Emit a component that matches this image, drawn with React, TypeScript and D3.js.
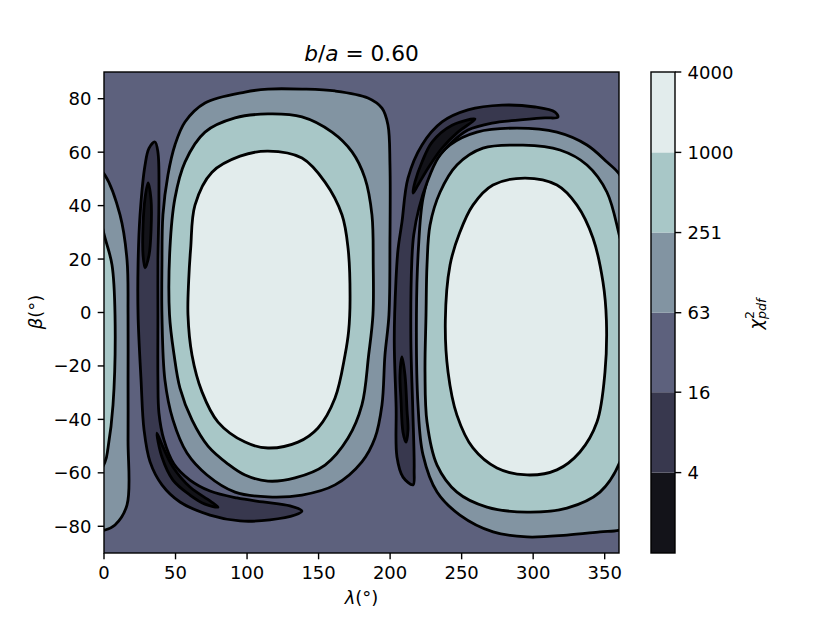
import React from "react";
import * as d3 from "d3";

type P = [number, number];

// contour levels (chi^2_pdf) and colorbar tick labels
const levels = [1, 4, 16, 63, 251, 1000, 4000];
const levelTickLabels = ["4", "16", "63", "251", "1000", "4000"];
const bandColors = ["#131319", "#38384e", "#5d617d", "#8294a2", "#a8c7c7", "#e2ecec"];

const xTicks = [0, 50, 100, 150, 200, 250, 300, 350];
const yTicks = [-80, -60, -40, -20, 0, 20, 40, 60, 80];

// contour outlines, in (lambda, beta) degrees
const A1000: P[] = [[114.6,60.4],[138.4,57.8],[154.5,48.8],[166.4,36.5],[170.6,24.1],[172.0,5.0],[171.0,-7.0],[168.5,-15.9],[161.5,-32.0],[149.6,-43.2],[135.6,-48.5],[114.6,-50.7],[98.6,-48.5],[79.7,-41.0],[68.5,-29.7],[61.5,-15.9],[58.7,-0.9],[59.2,12.0],[60.6,24.1],[63.6,40.2],[75.5,52.5],[95.1,58.5]];
const A251: P[] = [[91.6,72.8],[114.6,74.3],[138.4,73.2],[159.4,67.5],[173.4,60.1],[182.4,50.3],[187.3,36.5],[188.2,17.8],[188.0,-0.9],[185.0,-15.9],[180.3,-34.6],[170.6,-47.0],[154.5,-57.1],[133.5,-61.9],[114.6,-63.1],[98.6,-60.8],[86.7,-56.7],[72.7,-50.0],[61.5,-40.2],[53.1,-28.3],[49.0,-15.9],[45.8,-0.9],[46.1,24.1],[49.6,42.8],[56.6,56.3],[70.6,67.5]];
const A63: P[] = [[114.6,83.6],[138.4,83.6],[161.5,82.9],[184.5,80.3],[194.3,76.5],[198.5,70.2],[199.9,55.2],[199.9,27.1],[199.2,-0.9],[196.4,-15.9],[194.3,-34.6],[189.4,-47.0],[180.3,-55.9],[161.5,-64.5],[138.4,-68.3],[114.6,-69.0],[91.6,-67.2],[72.0,-60.8],[58.0,-52.6],[48.2,-40.2],[42.6,-25.3],[40.5,-0.9],[40.5,17.8],[41.2,36.5],[44.7,51.5],[49.6,62.7],[56.6,71.3],[70.6,78.4],[98.6,82.5]];
const B1000: P[] = [[294.3,50.3],[316.6,47.7],[330.6,40.2],[341.8,27.9],[348.8,11.4],[351.2,-3.0],[350.2,-22.3],[344.6,-41.0],[332.7,-52.2],[316.6,-58.9],[295.7,-60.8],[274.7,-58.2],[257.9,-50.7],[246.7,-38.4],[240.5,-22.3],[238.6,-3.0],[241.9,17.8],[248.8,30.1],[257.9,40.2],[271.9,47.7]];
const B251: P[] = [[292.9,62.6],[318.7,60.8],[337.6,55.2],[351.6,45.0],[360.7,27.9],[365.6,17.8],[367.7,-0.9],[366.3,-34.6],[362.8,-50.7],[360.7,-55.9],[346.7,-67.2],[323.6,-73.2],[295.7,-74.7],[267.7,-72.8],[246.7,-67.2],[232.8,-57.1],[225.8,-41.0],[224.4,-22.3],[225.1,-0.9],[225.8,17.8],[227.9,32.7],[234.9,45.0],[246.7,55.2],[264.9,61.5]];
const B63: P[] = [[288.7,69.0],[316.6,67.5],[337.6,62.7],[351.6,56.3],[360.7,51.4],[371.2,36.5],[376.1,19.6],[376.8,-0.9],[376.8,-25.3],[376.8,-47.7],[376.1,-72.0],[367.7,-79.5],[360.7,-81.4],[346.7,-82.1],[323.6,-83.3],[295.7,-84.0],[272.0,-82.1],[248.8,-75.8],[232.8,-67.2],[223.0,-53.3],[219.5,-34.6],[218.4,-0.9],[219.8,24.1],[223.0,42.8],[230.0,55.2],[241.9,62.7],[260.7,67.5]];
const D16L: P[] = [[35.6,63.8],[37.7,60.0],[38.4,42.8],[37.7,19.6],[37.7,-0.9],[37.7,-25.3],[38.4,-37.6],[41.9,-47.7],[48.9,-56.7],[60.1,-62.7],[74.1,-66.8],[93.0,-69.4],[111.1,-70.9],[130.0,-72.4],[138.4,-74.3],[133.5,-75.8],[116.0,-77.6],[95.1,-78.0],[74.1,-75.8],[53.1,-70.9],[40.5,-64.5],[32.2,-55.9],[28.0,-44.0],[25.9,-25.3],[23.8,-0.9],[23.8,17.8],[25.2,36.5],[28.7,55.2],[31.5,61.5]];
const D16R: P[] = [[216.0,-64.5],[209.0,-61.6],[204.8,-54.1],[204.2,-35.4],[202.9,-10.3],[204.1,12.1],[205.5,23.4],[208.3,33.9],[212.5,50.3],[222.3,62.7],[236.3,71.3],[254.4,75.8],[278.2,77.6],[301.3,76.9],[315.3,75.0],[317.3,73.1],[308.3,72.8],[289.4,72.0],[271.2,70.9],[254.4,68.3],[243.3,63.8],[233.5,57.8],[226.0,48.9],[220.2,39.1],[216.5,29.0],[215.2,19.6],[214.5,-10.3],[215.8,-35.4],[216.8,-58.9]];
const D4L1: P[] = [[30.8,48.5],[32.9,42.1],[32.9,30.9],[31.5,21.5],[28.7,16.7],[27.3,21.5],[27.3,32.7],[28.7,42.8]];
const D4L2: P[] = [[37.0,-45.1],[40.5,-54.1],[48.2,-62.7],[60.1,-68.3],[70.6,-71.7],[79.7,-72.8],[74.1,-70.5],[60.1,-65.3],[48.2,-57.8],[41.2,-50.3]];
const D4R1: P[] = [[259.3,72.4],[243.3,70.1],[229.3,63.8],[222.3,56.3],[217.4,48.9],[216.0,44.7],[219.5,47.7],[226.5,54.0],[236.3,61.5],[247.4,67.5],[257.2,71.3]];
const D4R2: P[] = [[208.3,-16.6],[210.4,-23.4],[211.8,-36.5],[212.5,-44.0],[211.1,-48.5],[209.0,-44.8],[207.6,-32.7],[206.9,-23.4]];

// drawing order: [outline, band index, wraps around 360]
const regions: [P[], number, boolean][] = [
  [B63, 3, true], [A63, 3, false],
  [B251, 4, true], [A251, 4, false],
  [A1000, 5, false], [B1000, 5, false],
  [D16L, 1, false], [D16R, 1, false],
  [D4L1, 0, false], [D4L2, 0, false], [D4R1, 0, false], [D4R2, 0, false],
];

const FONT = "DejaVu Sans";

export default function App() {
  const X0 = 104, X1 = 619, Y0 = 72, Y1 = 553;
  const x = d3.scaleLinear().domain([0, 360]).range([X0, X1]);
  const y = d3.scaleLinear().domain([-90, 90]).range([Y1, Y0]);
  const cb = d3.scaleLog().domain([1, 4000]).range([Y1, Y0]);
  const line = d3.line<P>().x(d => x(d[0])).y(d => y(d[1])).curve(d3.curveCatmullRomClosed.alpha(0.5));
  const CBX0 = 651, CBX1 = 675;
  const tickLen = 6.3;
  const fs = 18;

  const paths: JSX.Element[] = [];
  regions.forEach(([pts, band, wrap], i) => {
    const copies = wrap ? [pts, pts.map(([l, b]) => [l - 360, b] as P)] : [pts];
    copies.forEach((c, j) => {
      paths.push(
        <path key={`${i}-${j}`} d={line(c) || ""} fill={bandColors[band]} stroke="#000" strokeWidth={2.8} strokeLinejoin="round" />
      );
    });
  });

  return (
    <svg width={830} height={622} style={{ position: "absolute", left: 0, top: 0, background: "#fff" }} fontFamily={FONT}>
      <defs>
        <clipPath id="plotclip"><rect x={X0} y={Y0} width={X1 - X0} height={Y1 - Y0} /></clipPath>
      </defs>
      <g clipPath="url(#plotclip)">
        <rect x={X0} y={Y0} width={X1 - X0} height={Y1 - Y0} fill={bandColors[2]} />
        {paths}
      </g>
      <rect x={X0} y={Y0} width={X1 - X0} height={Y1 - Y0} fill="none" stroke="#000" strokeWidth={1.4} />
      {xTicks.map(t => (
        <g key={`xt${t}`}>
          <line x1={x(t)} x2={x(t)} y1={Y1} y2={Y1 + tickLen} stroke="#000" strokeWidth={1.4} />
          <text x={x(t)} y={Y1 + 2 * tickLen + 13.5} fontSize={fs} textAnchor="middle">{t}</text>
        </g>
      ))}
      {yTicks.map(t => (
        <g key={`yt${t}`}>
          <line x1={X0 - tickLen} x2={X0} y1={y(t)} y2={y(t)} stroke="#000" strokeWidth={1.4} />
          <text x={X0 - 2 * tickLen} y={y(t) + 6.5} fontSize={fs} textAnchor="end">{t < 0 ? `\u2212${-t}` : t}</text>
        </g>
      ))}
      <text x={(X0 + X1) / 2} y={61} fontSize={21.7} textAnchor="middle">
        <tspan fontStyle="italic">b</tspan>/<tspan fontStyle="italic">a</tspan> = 0.60
      </text>
      <text x={(X0 + X1) / 2} y={604} fontSize={fs} textAnchor="middle">
        <tspan fontStyle="italic">λ</tspan>(°)
      </text>
      <text transform={`translate(42,312) rotate(-90)`} fontSize={fs} textAnchor="middle">
        <tspan fontStyle="italic">β</tspan>(°)
      </text>
      {levels.slice(0, -1).map((lv, i) => (
        <rect key={`cb${i}`} x={CBX0} y={cb(levels[i + 1])} width={CBX1 - CBX0} height={cb(lv) - cb(levels[i + 1])} fill={bandColors[i]} />
      ))}
      <rect x={CBX0} y={Y0} width={CBX1 - CBX0} height={Y1 - Y0} fill="none" stroke="#000" strokeWidth={1.4} />
      {levels.slice(1).map((lv, i) => (
        <g key={`cbt${i}`}>
          <line x1={CBX1} x2={CBX1 + tickLen} y1={cb(lv)} y2={cb(lv)} stroke="#000" strokeWidth={1.4} />
          <text x={CBX1 + 2 * tickLen} y={cb(lv) + 6.5} fontSize={fs}>{levelTickLabels[i]}</text>
        </g>
      ))}
      <text transform={`translate(762,314) rotate(-90)`} fontSize={fs} textAnchor="middle">
        <tspan fontStyle="italic">χ</tspan>
        <tspan fontSize={12.6} dy={-8}>2</tspan>
        <tspan fontSize={12.6} fontStyle="italic" dx={-8} dy={12}>pdf</tspan>
      </text>
    </svg>
  );
}
